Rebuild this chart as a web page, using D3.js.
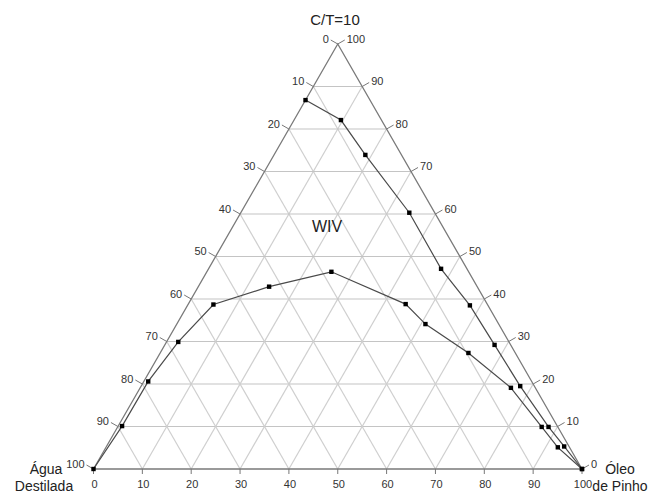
<!DOCTYPE html>
<html>
<head>
<meta charset="utf-8">
<script src="https://cdn.jsdelivr.net/npm/d3@7"></script>
<style>
    body { margin: 0; background: #fff; }
    svg { display: block; font-family: "Liberation Sans", Arial, sans-serif; }
</style>
</head>
<body>
<div class="chart"></div>
<script>
// ternary composition (%): water, pine oil, C/T
const upperWater = [13.2, 8.3, 7.5, 5.2, 5.3, 3.7, 3.4, 2.9, 2.0, 1.1, 0],
      upperOil   = [0, 9.6, 18.7, 34.5, 47.6, 57.8, 67.5, 77.6, 88.2, 93.7, 100],
      upperCT    = [86.8, 82.1, 73.9, 60.3, 47.1, 38.5, 29.2, 19.5, 9.9, 5.3, 0];

const lowerWater = [100, 89.0, 78.5, 67.8, 56.1, 42.6, 28.2, 16.7, 15.0, 9.6, 5.1, 3.3, 2.4, 0],
      lowerOil   = [0, 0.8, 0.9, 2.4, 5.2, 14.5, 25.5, 44.5, 50.9, 63.1, 75.9, 86.8, 92.5, 100],
      lowerCT    = [0, 10.1, 20.6, 29.9, 38.7, 42.9, 46.4, 38.8, 34.1, 27.3, 19.1, 9.9, 5.1, 0];

const ticks = [0, 10, 20, 30, 40, 50, 60, 70, 80, 90, 100];
const gridValues = [10, 20, 30, 40, 50, 60, 70, 80, 90];

const width = 654, height = 495;

const svg = d3.select(".chart").append("svg")
    .attr("width", width)
    .attr("height", height);

// x runs on (oil + C/T / 2), y on C/T
const x = d3.scaleLinear().domain([0, 100]).range([93.5, 582]);
const y = d3.scaleLinear().domain([0, 100]).range([469, 44]);

const pt = (o, t) => [x(o + t / 2), y(t)];

const zip = (w, o, t) => w.map((d, i) => ({water: d, oil: o[i], ct: t[i]}));
const upper = zip(upperWater, upperOil, upperCT),
      lower = zip(lowerWater, lowerOil, lowerCT);

// grid
const gridLines = [];
gridValues.forEach(v => {
    gridLines.push({a: pt(0, v), b: pt(100 - v, v), c: "#c4c4c4"});     // constant C/T
    gridLines.push({a: pt(v, 0), b: pt(v, 100 - v), c: "#cfcfcf"});     // constant oil
    gridLines.push({a: pt(100 - v, 0), b: pt(0, 100 - v), c: "#cfcfcf"}); // constant water
});

svg.append("g")
    .attr("class", "grid")
    .selectAll("line")
    .data(gridLines)
    .enter().append("line")
    .attr("x1", d => d.a[0])
    .attr("y1", d => d.a[1])
    .attr("x2", d => d.b[0])
    .attr("y2", d => d.b[1])
    .style("stroke", d => d.c)
    .style("stroke-width", 1.2);

// triangle border
svg.append("path")
    .attr("d", d3.line()([pt(0, 0), pt(100, 0), pt(0, 100)]) + "Z")
    .style("fill", "none")
    .style("stroke", "#7a7a7a")
    .style("stroke-width", 1.3);

// ticks + labels
const axisG = svg.append("g")
    .attr("class", "axis")
    .style("font-size", "11px")
    .style("fill", "#333");

// bottom: oil
ticks.forEach(v => {
    const p = pt(v, 0);
    axisG.append("line")
        .attr("x1", p[0]).attr("y1", p[1])
        .attr("x2", p[0]).attr("y2", p[1] + 5)
        .style("stroke", "#777");
    axisG.append("text")
        .attr("x", p[0] + 1)
        .attr("y", p[1] + 19)
        .attr("text-anchor", "middle")
        .text(v);
});

// left: water
ticks.forEach(v => {
    const p = pt(0, 100 - v);
    axisG.append("line")
        .attr("x1", p[0]).attr("y1", p[1])
        .attr("x2", p[0] - 7).attr("y2", p[1] - 4)
        .style("stroke", "#777");
    axisG.append("text")
        .attr("x", p[0] - 9)
        .attr("y", p[1] - 5)
        .attr("dy", "0.35em")
        .attr("text-anchor", "end")
        .text(v);
});

// right: C/T
ticks.forEach(v => {
    const p = pt(100 - v, v);
    axisG.append("line")
        .attr("x1", p[0]).attr("y1", p[1])
        .attr("x2", p[0] + 7).attr("y2", p[1] - 4)
        .style("stroke", "#777");
    axisG.append("text")
        .attr("x", p[0] + 9)
        .attr("y", p[1] - 5)
        .attr("dy", "0.35em")
        .attr("text-anchor", "start")
        .text(v);
});

// curves
const line = d3.line()
    .x(d => pt(d.oil, d.ct)[0])
    .y(d => pt(d.oil, d.ct)[1]);

[upper, lower].forEach(series => {
    svg.append("path")
        .datum(series)
        .attr("d", line)
        .style("fill", "none")
        .style("stroke", "#4a4a4a")
        .style("stroke-width", 1.2);

    svg.append("g")
        .selectAll("rect")
        .data(series)
        .enter().append("rect")
        .attr("x", d => pt(d.oil, d.ct)[0] - 2.2)
        .attr("y", d => pt(d.oil, d.ct)[1] - 2.2)
        .attr("width", 4.4)
        .attr("height", 4.4)
        .style("fill", "#000");
});

// titles
const label = (txt, lx, ly, size) => svg.append("text")
    .attr("x", lx)
    .attr("y", ly)
    .attr("text-anchor", "middle")
    .style("font-size", size + "px")
    .style("fill", "#222")
    .text(txt);

label("C/T=10", 335, 25, 15);
label("WIV", 327, 232, 16);
label("Água", 46, 474, 14);
label("Destilada", 44, 491, 14);
label("Óleo", 620, 474, 14);
label("de Pinho", 620, 491, 14);
</script>
</body>
</html>
